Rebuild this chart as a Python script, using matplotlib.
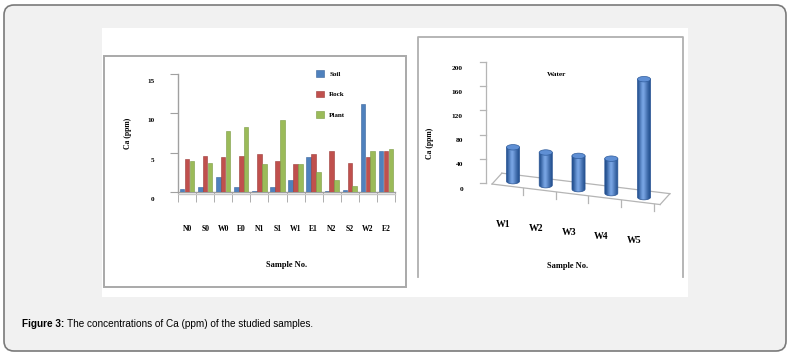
import numpy as np
import matplotlib
matplotlib.use('Agg')
import matplotlib.pyplot as plt
from matplotlib.patches import Rectangle, FancyBboxPatch, Ellipse, PathPatch, Patch
from matplotlib.path import Path
from matplotlib.transforms import ScaledTranslation

# ---- data ----
samples = ['N0', 'S0', 'W0', 'E0', 'N1', 'S1', 'W1', 'E1', 'N2', 'S2', 'W2', 'E2']
soil = [0.4, 0.6, 1.9, 0.6, 0.1, 0.6, 1.5, 4.45, 0.1, 0.3, 11.2, 5.2]
rock = [4.25, 4.6, 4.45, 4.6, 4.8, 3.9, 3.5, 4.8, 5.2, 3.7, 4.45, 5.2]
plant = [3.9, 3.7, 7.75, 8.3, 3.5, 9.2, 3.5, 2.55, 1.5, 0.8, 5.2, 5.5]

water_samples = ['W1', 'W2', 'W3', 'W4', 'W5']
water = [56, 54, 55, 57, 195]

W, H = 793, 357
SERIF = 'Liberation Serif'
GRID = '#a0a0a0'


def fx(px):
    return px / W


def fy(py):
    return 1 - py / H


def box(x0, y0, x1, y1):
    # pixel box -> figure fraction [left, bottom, width, height]
    return [fx(x0), fy(y1), (x1 - x0) / W, (y1 - y0) / H]


fig = plt.figure(figsize=(W / 100, H / 100), dpi=100)
fig.patch.set_facecolor('white')

# page frame, white picture area, panel borders
bg = fig.add_axes([0, 0, 1, 1], zorder=-10)
bg.set_xlim(0, W)
bg.set_ylim(H, 0)
bg.axis('off')
bg.add_patch(FancyBboxPatch((4, 5), 782, 346, boxstyle='round,pad=0,rounding_size=10',
                            facecolor='#f1f1f1', edgecolor='#7a7a7a', linewidth=1.2))
bg.add_patch(Rectangle((102, 28), 586, 269, facecolor='white', edgecolor='none'))
bg.add_patch(Rectangle((104, 56), 302, 231, facecolor='none', edgecolor='#a9a9a9', linewidth=1.4))
bg.plot([418, 418, 683, 683], [277, 37, 37, 277], color='#b0b0b0', linewidth=1.3)

# caption: bold lead-in, then the rest placed right after it
cap = fig.text(fx(22), fy(327), 'Figure 3:', fontsize=7.2, fontweight='bold',
               family='Liberation Sans', va='baseline')
fig.canvas.draw()
bb = cap.get_window_extent()
fig.text((bb.x1 + 3) / W, fy(327), 'The concentrations of Ca (ppm) of the studied samples.',
         fontsize=7.2, family='Liberation Sans', va='baseline')

# ---- left panel: clustered bars ----
ax = fig.add_axes(box(178, 74, 395, 192))
x = np.arange(len(samples))
bw = 0.25
cols = ['#4f81bd', '#c0504d', '#9bbb59']
edges = ['#3a659c', '#9c3b39', '#7a9a42']
for k, (vals, c, e) in enumerate(zip([soil, rock, plant], cols, edges)):
    ax.bar(x + (k - 1) * 0.27, vals, bw, color=c, edgecolor=e, linewidth=0.4, zorder=3)

ax.set_xlim(-0.5, len(samples) - 0.5)
ax.set_ylim(0, 15)
ax.set_facecolor('none')
for s in ['top', 'right']:
    ax.spines[s].set_visible(False)
for s in ['left', 'bottom']:
    ax.spines[s].set_color(GRID)
    ax.spines[s].set_linewidth(1.0)
ax.axhline(-0.25, color='#c8c8c8', linewidth=1.0, clip_on=False)

ax.set_yticks([0, 5, 10, 15])
ax.set_yticklabels(['0', '5', '10', '15'], fontsize=5.2, fontweight='bold', family=SERIF)
ax.tick_params(axis='y', length=6, color=GRID, pad=11)
for lab in ax.get_yticklabels():
    lab.set_transform(lab.get_transform() + ScaledTranslation(0, -5 / 72, fig.dpi_scale_trans))

ax.set_xticks(x)
ax.set_xticklabels(samples, fontsize=5.5, fontweight='bold', family=SERIF)
ax.set_xticks(np.arange(len(samples) + 1) - 0.5, minor=True)
ax.tick_params(axis='x', which='major', length=0, pad=24)
ax.tick_params(axis='x', which='minor', length=7, color=GRID)

ax.set_ylabel('Ca (ppm)', fontsize=5.5, fontweight='bold', family=SERIF, labelpad=11)
ax.set_xlabel('Sample No.', fontsize=6, fontweight='bold', family=SERIF, labelpad=20)

handles = [Patch(facecolor=c, edgecolor=e, linewidth=0.4) for c, e in zip(cols, edges)]
ax.legend(handles, ['Soil', 'Rock', 'Plant'], loc='upper left',
          bbox_to_anchor=(fx(316), fy(70)), bbox_transform=fig.transFigure,
          frameon=False, borderpad=0, borderaxespad=0, handlelength=1.1, handleheight=1.1,
          handletextpad=0.8, labelspacing=2.0,
          prop={'family': SERIF, 'weight': 'bold', 'size': 5})

# ---- right panel: pseudo 3D cylinders ----
ax2 = fig.add_axes(box(418, 37, 684, 277))
ax2.set_facecolor('none')
ax2.axis('off')

tilt = 6.6          # floor drop per category (value units)
front0 = -6.0       # front floor edge at first category
depth = (0.3, 18.0)  # floor depth vector
cw, eh = 0.4, 9.0   # cylinder width / ellipse height


def front_y(xx):
    return front0 - tilt * xx


# floor
xl, xr = -0.64, len(water) - 0.51
fl = (xl, front_y(xl))
fr = (xr, front_y(xr))
bl = (xl + depth[0], front_y(xl) + depth[1])
br = (xr + depth[0], front_y(xr) + depth[1])
for a, b in [(fl, fr), (bl, br), (fl, bl), (fr, br)]:
    ax2.plot([a[0], b[0]], [a[1], b[1]], color='#b5b5b5', linewidth=0.9, zorder=1)

# vertical value axis
yax = -0.82
ax2.plot([yax, yax], [0, 200], color='#b5b5b5', linewidth=0.9, zorder=1)
for v in range(0, 201, 40):
    ax2.plot([yax - 0.19, yax], [v, v], color='#b5b5b5', linewidth=0.9, zorder=1)
    ax2.text(-1.53, v - 10, str(v), fontsize=5.3, fontweight='bold', family=SERIF,
             ha='right', va='center')

# category ticks and labels on the front edge
for i, name in enumerate(water_samples):
    tx = i + 0.3
    ax2.plot([tx, tx], [front_y(tx), front_y(tx) - 12], color='#b5b5b5', linewidth=0.9, zorder=1)
    ax2.text(i - 0.3, front_y(i) - 62, name, fontsize=7, fontweight='bold', family=SERIF,
             ha='center', va='center')

grad = np.array([[0.0, 0.35, 0.7, 1.0, 0.75, 0.45, 0.2, 0.0]])
cmap = matplotlib.colors.LinearSegmentedColormap.from_list('cyl', ['#23508f', '#7fabea'])
for i, v in enumerate(water):
    base = front0 + depth[1] / 2 - tilt * i
    top = base + v
    t = np.linspace(np.pi, 2 * np.pi, 40)
    verts = [(i - cw / 2, top)] + list(zip(i + cw / 2 * np.cos(t), base + eh / 2 * np.sin(t))) \
        + [(i + cw / 2, top), (i - cw / 2, top)]
    body = PathPatch(Path(verts, closed=True), transform=ax2.transData,
                     facecolor='none', edgecolor='#2a5595', linewidth=0.5, zorder=4)
    im = ax2.imshow(grad, cmap=cmap, aspect='auto', interpolation='bicubic',
                    extent=[i - cw / 2, i + cw / 2, base - eh, top], zorder=3)
    im.set_clip_path(body)
    ax2.add_patch(body)
    ax2.add_patch(Ellipse((i, top), cw, eh, facecolor='#5f8fd4', edgecolor='#2f5c9c',
                          linewidth=0.5, zorder=5))

ax2.text(-2.52, 65, 'Ca (ppm)', rotation=90, fontsize=5.5, fontweight='bold', family=SERIF,
         ha='center', va='center')
ax2.text(1.34, 180, 'Water', fontsize=5.2, fontweight='bold', family=SERIF, ha='center', va='center')
ax2.text(1.68, -137, 'Sample No.', fontsize=6, fontweight='bold', family=SERIF, ha='center', va='center')

ax2.set_xlim(-2.90, 5.22)
ax2.set_ylim(-155.4, 241.3)

fig.savefig('out.png', dpi=100)
